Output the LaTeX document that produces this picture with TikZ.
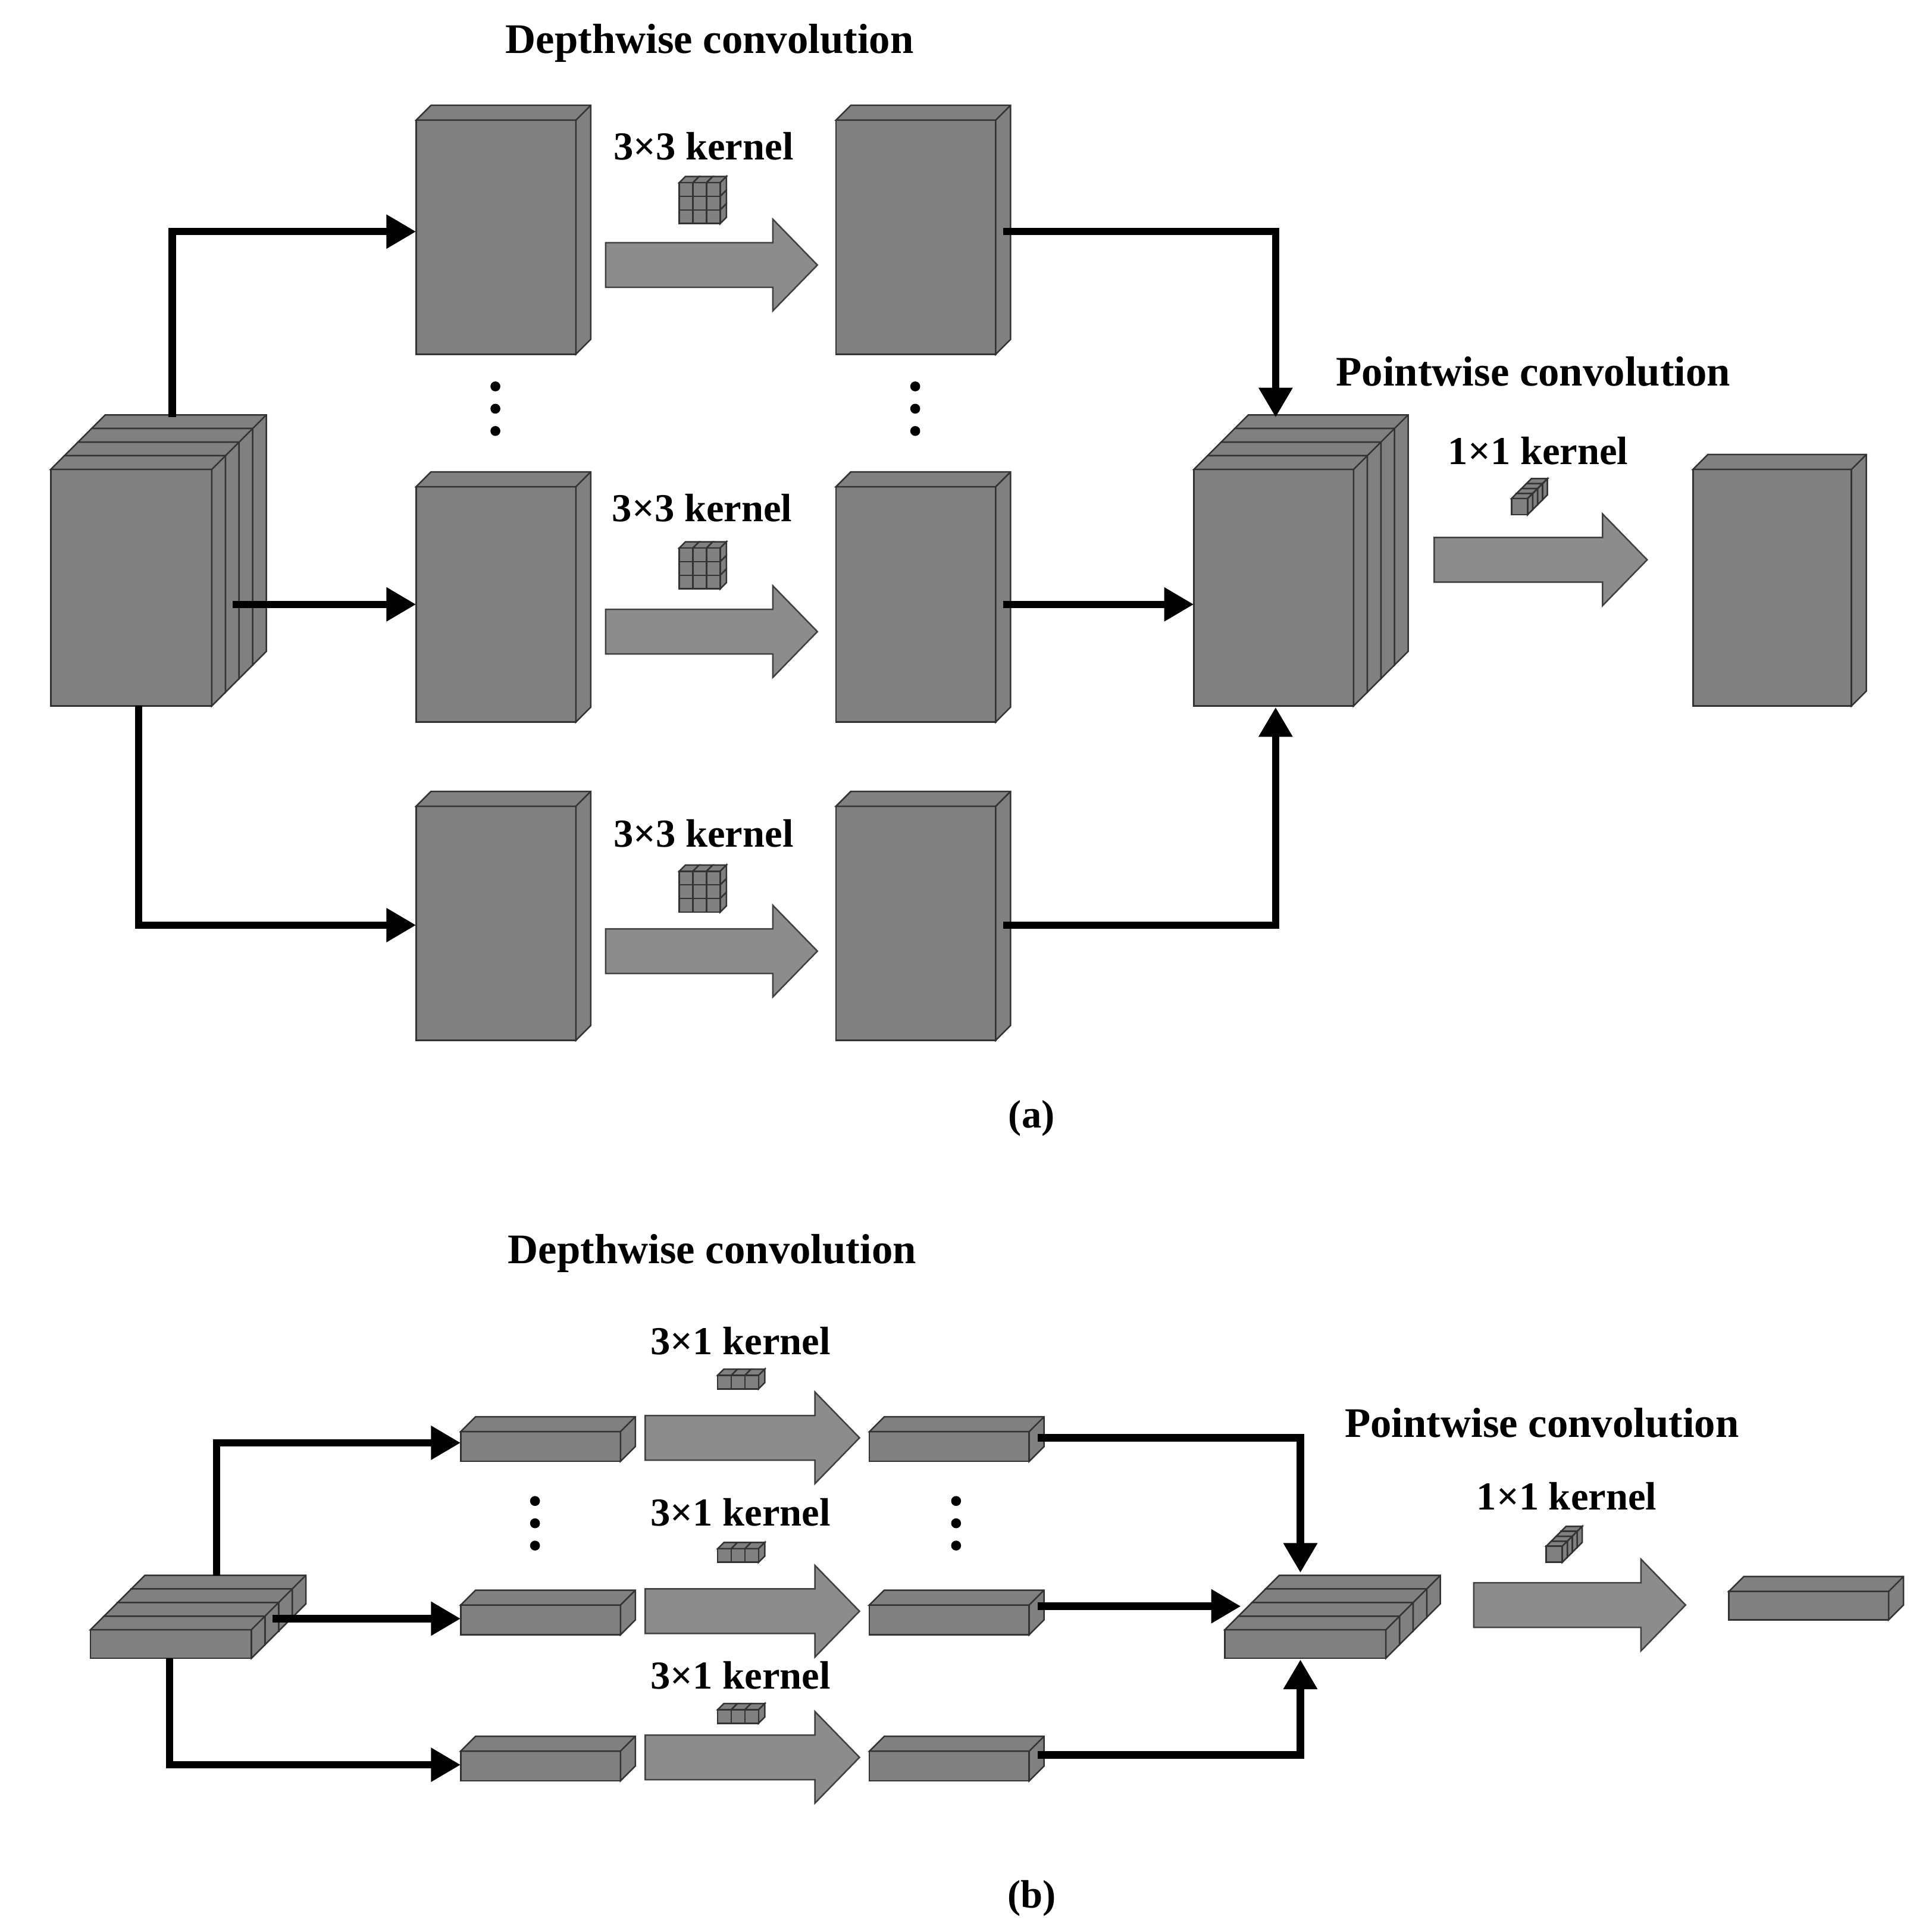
\documentclass[tikz,border=0pt]{standalone}
\usepackage{fontspec}
\setmainfont{Liberation Serif}
\usetikzlibrary{arrows.meta,calc}
\tikzset{
 face/.style={fill=black!50,draw=black!80,line width=0.6pt},
 conn/.style={line width=3pt,-{Triangle[length=12pt,width=13pt]}},
 lbl/.style={font=\bfseries\fontsize{16}{18}\selectfont,inner sep=0},
 dot/.style={circle,fill=black,inner sep=0,minimum size=4pt},
 fat/.style={fill=black!45,draw=black!75,line width=0.6pt},
}
% name, x, y, w, h, d
\newcommand\blk[6]{%
 \node[face,anchor=north west,inner sep=0,outer sep=0,minimum width={#4*0.5pt},minimum height={#5*0.5pt}] (#1) at (#2,#3) {};
 \draw[face] (#1.north west) -- ++(#6,-#6) -- ++(#4,0) -- ++(0,#5) -- ++(-#6,#6) -- (#1.north east) -- cycle;
 \draw[draw=black!80,line width=0.6pt] (#1.north east) -- ++(#6,-#6);}
% fat arrow: x1, cy, x2, headstart, shaft half, head half
\newcommand\fatarr[6]{%
 \draw[fat] (#1,#2-#5) -- (#4,#2-#5) -- (#4,#2-#6) -- (#3,#2) -- (#4,#2+#6) -- (#4,#2+#5) -- (#1,#2+#5) -- cycle;}
% small kernel: cx, cy, cols, rows, cell, depth
\newcommand\kernel[6]{%
 \begin{scope}[shift={({#1-#3*#5/2},{#2-#4*#5/2})}]
 \foreach \i in {1,...,#3}{\draw[face] ({(\i-1)*#5},0) -- ++(#6,-#6) -- ++(#5,0) -- ++(-#6,#6) -- cycle;}
 \foreach \j in {1,...,#4}{\draw[face] ({#3*#5},{(\j-1)*#5}) -- ++(#6,-#6) -- ++(0,#5) -- ++(-#6,#6) -- cycle;}
 \foreach \i in {1,...,#3}{\foreach \j in {1,...,#4}{\draw[face] ({(\i-1)*#5},{(\j-1)*#5}) rectangle ++(#5,#5);}}
 \end{scope}}
\begin{document}
\begin{tikzpicture}[x=0.5pt,y=-0.5pt]
\useasboundingbox[fill=white] (0,0) rectangle (1560,1555);
% ---------- (a) ----------
\foreach \i in {3,2,1}{\blk{ina\i}{41+11*\i}{379-11*\i}{130}{191}{11}}
\blk{ina}{41}{379}{130}{191}{11}
\blk{a11}{336}{97}{129}{189}{12}
\blk{a12}{336}{393}{129}{190}{12}
\blk{a13}{336}{651}{129}{189}{12}
\blk{a21}{675}{97}{129}{189}{12}
\blk{a22}{675}{393}{129}{190}{12}
\blk{a23}{675}{651}{129}{189}{12}
\foreach \i in {3,2,1}{\blk{mida\i}{964+11*\i}{379-11*\i}{129}{191}{11}}
\blk{mida}{964}{379}{129}{191}{11}
\blk{outa}{1367}{379}{128}{191}{12}
\fatarr{489}{214}{660}{624}{18}{37}
\fatarr{489}{510}{660}{624}{18}{37}
\fatarr{489}{768}{660}{624}{18}{37}
\fatarr{1158}{452}{1330}{1294}{18}{37}
\kernel{565}{164}{3}{3}{11}{5}
\kernel{565}{459}{3}{3}{11}{5}
\kernel{565}{720}{3}{3}{11}{5}
\foreach \k in {3,2,1,0}{\kernel{1227+4*\k}{409-4*\k}{1}{1}{13}{4}}
\node[lbl] (ta1) at (568,118) {3×3 kernel};
\node[lbl] (ta2) at (567,410) {3×3 kernel};
\node[lbl] (ta3) at (568,673) {3×3 kernel};
\node[lbl,font=\bfseries\fontsize{17}{19}\selectfont] (dwa) at (573,35) {Depthwise convolution};
\node[lbl,font=\bfseries\fontsize{17}{19}\selectfont] (pwa) at (1238,300) {Pointwise convolution};
\node[lbl] (ka) at (1242,364) {1×1 kernel};
\node[lbl] (capa) at (833,903) {(a)};
\foreach \y in {312,330,348}{\node[dot] at (400,\y) {}; \node[dot] at (739,\y) {};}
\coordinate (ia1) at (139,337);
\coordinate (ia2) at (188,488);
\coordinate (ia3) at (112,570);
\draw[conn] (ia1) |- (a11.west|-0,187);
\draw[conn] (ia2) -- (a12.west|-ia2);
\draw[conn] (ia3) |- (a13.west|-0,747);
\coordinate (oa1) at (810,187);
\coordinate (oa2) at (810,488);
\coordinate (oa3) at (810,747);
\draw[conn] (oa1) -| (1030,337);
\draw[conn] (oa2) -- (mida.west|-oa2);
\draw[conn] (oa3) -| (1030,571);
% ---------- (b) ----------
\foreach \i in {3,2,1}{\blk{inb\i}{73+11*\i}{1316-11*\i}{130}{23}{11}}
\blk{inb}{73}{1316}{130}{23}{11}
\blk{b11}{372}{1156}{129}{24}{12}
\blk{b12}{372}{1296}{129}{24}{12}
\blk{b13}{372}{1414}{129}{24}{12}
\blk{b21}{702}{1156}{129}{24}{12}
\blk{b22}{702}{1296}{129}{24}{12}
\blk{b23}{702}{1414}{129}{24}{12}
\foreach \i in {3,2,1}{\blk{midb\i}{989+11*\i}{1316-11*\i}{130}{23}{11}}
\blk{midb}{989}{1316}{130}{23}{11}
\blk{outb}{1396}{1285}{129}{23}{12}
\fatarr{521}{1161}{694}{658}{18}{37}
\fatarr{521}{1301}{694}{658}{18}{37}
\fatarr{521}{1419}{694}{658}{18}{37}
\fatarr{1190}{1296}{1361}{1325}{18}{37}
\kernel{596}{1116}{3}{1}{11}{5}
\kernel{596}{1256}{3}{1}{11}{5}
\kernel{596}{1386}{3}{1}{11}{5}
\foreach \k in {3,2,1,0}{\kernel{1255+4*\k}{1255-4*\k}{1}{1}{13}{4}}
\node[lbl] (tb1) at (598,1083) {3×1 kernel};
\node[lbl] (tb2) at (598,1221) {3×1 kernel};
\node[lbl] (tb3) at (598,1353) {3×1 kernel};
\node[lbl,font=\bfseries\fontsize{17}{19}\selectfont] (dwb) at (575,1012) {Depthwise convolution};
\node[lbl,font=\bfseries\fontsize{17}{19}\selectfont] (pwb) at (1245,1149) {Pointwise convolution};
\node[lbl] (kb) at (1265,1208) {1×1 kernel};
\node[lbl] (capb) at (833,1533) {(b)};
\foreach \y in {1212,1230,1248}{\node[dot] at (432,\y) {}; \node[dot] at (772,\y) {};}
\coordinate (ib1) at (175,1272);
\coordinate (ib2) at (220,1307);
\coordinate (ib3) at (137,1339);
\draw[conn] (ib1) |- (b11.west|-0,1165);
\draw[conn] (ib2) -- (b12.west|-ib2);
\draw[conn] (ib3) |- (b13.west|-0,1425);
\coordinate (ob1) at (838,1161);
\coordinate (ob2) at (838,1297);
\coordinate (ob3) at (838,1417);
\draw[conn] (ob1) -| (1050,1270);
\draw[conn] (ob2) -- (1002,1297);
\draw[conn] (ob3) -| (1050,1340);
\end{tikzpicture}
\end{document}
